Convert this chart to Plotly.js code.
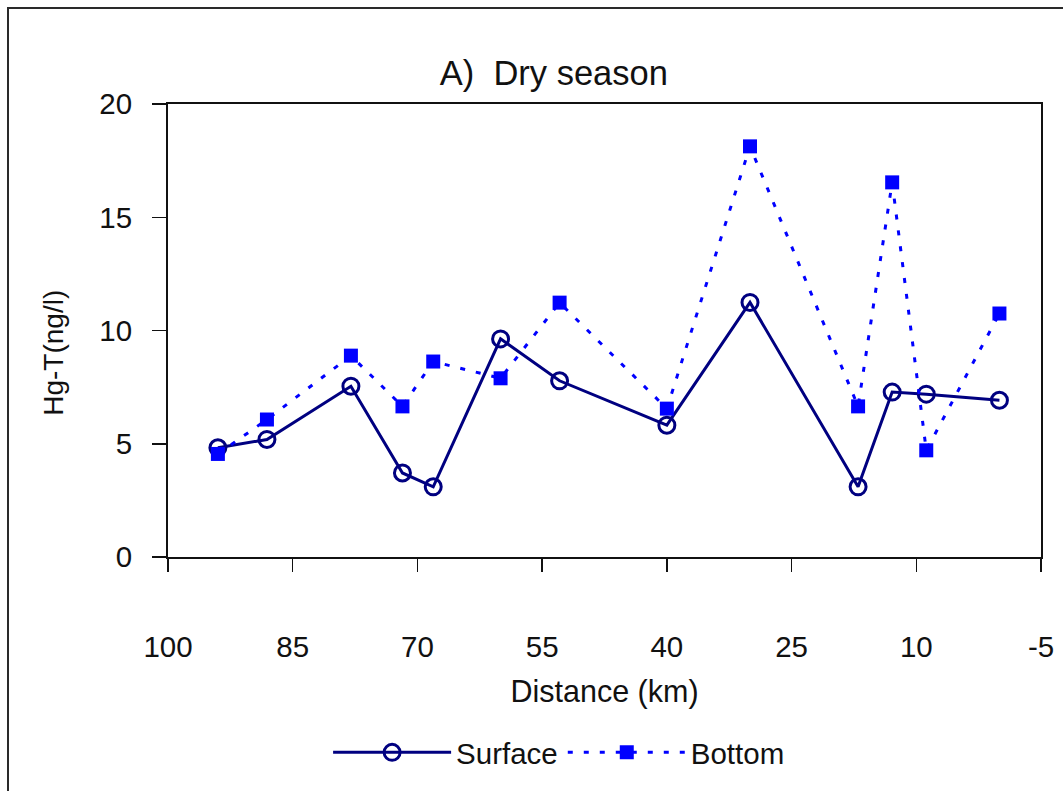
<!DOCTYPE html>
<html>
<head>
<meta charset="utf-8">
<script src="https://cdn.plot.ly/plotly-3.0.1.min.js"></script>
<style>
  html, body { margin: 0; padding: 0; background: #fff; overflow: hidden; }
  #frame { position: absolute; left: 7px; top: 7px; width: 2000px; height: 2000px;
           border: 2px solid #2a2a2a; box-sizing: border-box; }
  #chart { position: absolute; left: 0; top: 0; width: 1063px; height: 791px; }
</style>
</head>
<body>
<div id="frame"></div>
<div id="chart"></div>
<script>
// Distance from the river mouth (km) at each sampling station
const distanceKm = [94, 88.1, 78, 71.8, 68.1, 60, 52.9, 40, 30, 17, 12.9, 8.8, 0];

// Total mercury, Hg-T (ng/l), dry season
const surfaceHg = [4.82, 5.19, 7.54, 3.71, 3.10, 9.63, 7.78, 5.82, 11.24, 3.10, 7.28, 7.19, 6.92];
const bottomHg  = [4.55, 6.07, 8.89, 6.65, 8.63, 7.89, 11.23, 6.55, 18.13, 6.65, 16.54, 4.71, 10.75];

// Axis ticks
const xTicks = [100, 85, 70, 55, 40, 25, 10, -5];
const yTicks = [0, 5, 10, 15, 20];

const FONT = 'Liberation Sans, Arial, sans-serif';
const INK = '#111111';

const traces = [
  {
    name: 'Surface',
    x: distanceKm,
    y: surfaceHg,
    type: 'scatter',
    mode: 'lines+markers',
    line: { color: '#000080', width: 3 },
    marker: { symbol: 'circle-open', size: 16, color: '#000080', line: { width: 3, color: '#000080' } }
  },
  {
    name: 'Bottom',
    x: distanceKm,
    y: bottomHg,
    type: 'scatter',
    mode: 'lines+markers',
    line: { color: '#0000FF', width: 3, dash: '5px,11px' },
    marker: { symbol: 'square', size: 14, color: '#0000FF' }
  }
];

const layout = {
  width: 1063,
  height: 791,
  margin: { l: 168, r: 22, t: 104, b: 231 },
  paper_bgcolor: 'rgba(0,0,0,0)',
  plot_bgcolor: 'rgba(0,0,0,0)',
  font: { family: FONT, color: INK, size: 29 },
  showlegend: true,
  title: {
    text: 'A)  Dry season',
    font: { family: FONT, size: 34.5, color: INK },
    xref: 'container', x: 0.521, xanchor: 'center',
    yref: 'container', y: 0.908, yanchor: 'middle'
  },
  xaxis: {
    range: [100, -5],
    tickmode: 'array',
    tickvals: xTicks,
    ticktext: xTicks.map(String),
    ticks: 'outside', ticklen: 13, tickwidth: 1.5, tickcolor: '#111',
    ticklabelstandoff: 50,
    showline: true, linecolor: '#111', linewidth: 2, mirror: true,
    showgrid: false, zeroline: false,
    tickfont: { family: FONT, size: 29.5, color: INK },
    title: { text: 'Distance (km)', font: { family: FONT, size: 30.5, color: INK }, standoff: 18 }
  },
  yaxis: {
    range: [0, 20],
    tickmode: 'array',
    tickvals: yTicks,
    ticktext: yTicks.map(String),
    ticks: 'outside', ticklen: 14, tickwidth: 1.5, tickcolor: '#111',
    ticklabelstandoff: 14,
    showline: true, linecolor: '#111', linewidth: 2, mirror: true,
    showgrid: false, zeroline: false,
    tickfont: { family: FONT, size: 29.5, color: INK }
  },
  annotations: [
    {
      text: 'Hg-T(ng/l)',
      xref: 'paper', yref: 'paper',
      x: -0.131, y: 0.45,
      xanchor: 'center', yanchor: 'middle',
      textangle: -90, showarrow: false,
      font: { family: FONT, size: 28, color: INK }
    }
  ],
  legend: {
    orientation: 'h',
    x: 0.448, xanchor: 'center',
    y: -0.432, yanchor: 'middle',
    font: { family: FONT, size: 29.5, color: INK },
    bgcolor: 'rgba(0,0,0,0)',
    itemwidth: 118,
    itemgap: 8
  }
};

Plotly.newPlot('chart', traces, layout, { displayModeBar: false, staticPlot: true });
</script>
</body>
</html>
